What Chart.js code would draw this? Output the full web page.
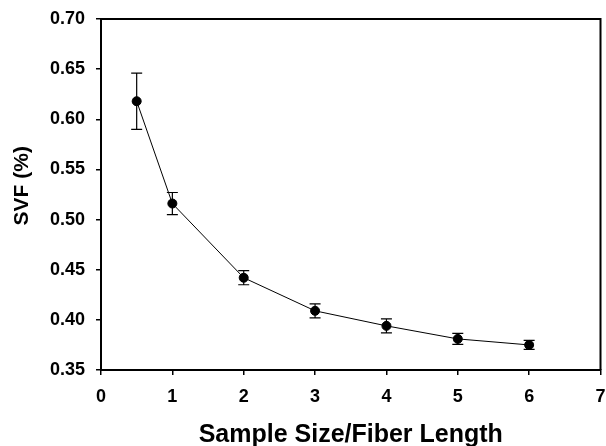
<!DOCTYPE html>
<html>
<head>
<meta charset="utf-8">
<script src="https://cdn.jsdelivr.net/npm/chart.js@4/dist/chart.umd.min.js"></script>
<style>
  html, body { margin: 0; padding: 0; background: #fff; overflow: hidden; }
  #wrap { position: relative; width: 606px; height: 446px; }
</style>
</head>
<body>
<div id="wrap"><canvas id="c" width="606" height="446"></canvas></div>
<script>
// ---- data ----
const xValues = [0.5, 1, 2, 3, 4, 5, 6];
const svfValues = [0.618, 0.516, 0.442, 0.409, 0.394, 0.381, 0.375];
const svfErrors = [0.028, 0.011, 0.007, 0.007, 0.007, 0.0055, 0.0045];
const xTitle = 'Sample Size/Fiber Length';
const yTitle = 'SVF (%)';
const xRange = [0, 7];
const yRange = [0.35, 0.70];

const FONT = "'Liberation Sans', Arial, Helvetica, sans-serif";

const errorBarPlugin = {
  id: 'errorBars',
  afterDatasetsDraw(chart) {
    const ctx = chart.ctx;
    const xs = chart.scales.x, ys = chart.scales.y;
    ctx.save();
    ctx.strokeStyle = '#000';
    ctx.lineWidth = 1.2;
    const cap = 5.5;
    xValues.forEach((xv, i) => {
      const px = xs.getPixelForValue(xv);
      const pTop = ys.getPixelForValue(svfValues[i] + svfErrors[i]);
      const pBot = ys.getPixelForValue(svfValues[i] - svfErrors[i]);
      ctx.beginPath();
      ctx.moveTo(px, pTop); ctx.lineTo(px, pBot);
      ctx.moveTo(px - cap, pTop); ctx.lineTo(px + cap, pTop);
      ctx.moveTo(px - cap, pBot); ctx.lineTo(px + cap, pBot);
      ctx.stroke();
    });
    ctx.restore();
  }
};

const framePlugin = {
  id: 'frame',
  afterDraw(chart) {
    const a = chart.chartArea;
    const ctx = chart.ctx;
    ctx.save();
    ctx.strokeStyle = '#000';
    ctx.lineWidth = 2;
    ctx.beginPath();
    ctx.moveTo(a.left, a.top); ctx.lineTo(a.right, a.top); ctx.lineTo(a.right, a.bottom);
    ctx.stroke();
    ctx.restore();
  }
};

const bgPlugin = {
  id: 'bg',
  beforeDraw(chart) {
    const ctx = chart.ctx;
    ctx.save();
    ctx.fillStyle = '#fff';
    ctx.fillRect(0, 0, chart.width, chart.height);
    ctx.restore();
  }
};

new Chart(document.getElementById('c'), {
  type: 'scatter',
  data: {
    datasets: [{
      data: xValues.map((x, i) => ({ x: x, y: svfValues[i] })),
      showLine: true,
      borderColor: '#000',
      borderWidth: 1,
      backgroundColor: '#000',
      pointBackgroundColor: '#000',
      pointBorderColor: '#000',
      pointRadius: 4.5,
      pointHoverRadius: 4.5,
      tension: 0
    }]
  },
  options: {
    responsive: false,
    animation: false,
    events: [],
    layout: { padding: { top: 19, right: 3, left: 0, bottom: 0 } },
    plugins: {
      legend: { display: false },
      tooltip: { enabled: false }
    },
    scales: {
      x: {
        type: 'linear',
        min: xRange[0], max: xRange[1],
        ticks: {
          stepSize: 1,
          color: '#000',
          padding: 11,
          maxRotation: 0,
          font: { family: FONT, size: 18, weight: 'bold' }
        },
        grid: { drawOnChartArea: false, drawTicks: true, tickLength: 5, color: '#000', lineWidth: 1.5 },
        border: { display: true, color: '#000', width: 2 },
        title: {
          display: true, text: xTitle, color: '#000',
          font: { family: FONT, size: 25, weight: 'bold', lineHeight: 0.9 },
          padding: { top: 4, bottom: 0 }
        },
        afterFit(scale) { scale.paddingRight = 0; scale.paddingLeft = 0; scale.height = 76; }
      },
      y: {
        type: 'linear',
        min: yRange[0], max: yRange[1],
        ticks: {
          stepSize: 0.05,
          color: '#000',
          padding: 11,
          font: { family: FONT, size: 18, weight: 'bold' },
          callback: (v) => Number(v).toFixed(2)
        },
        grid: { drawOnChartArea: false, drawTicks: true, tickLength: 5, color: '#000', lineWidth: 1.5 },
        border: { display: true, color: '#000', width: 2 },
        title: {
          display: true, text: '   ' + yTitle, color: '#000',
          font: { family: FONT, size: 21, weight: 'bold' },
          padding: { top: 10, bottom: 0 }
        },
        afterFit(scale) { scale.width = 101; scale.paddingTop = 0; scale.paddingBottom = 0; }
      }
    }
  },
  plugins: [bgPlugin, errorBarPlugin, framePlugin]
});
</script>
</body>
</html>
